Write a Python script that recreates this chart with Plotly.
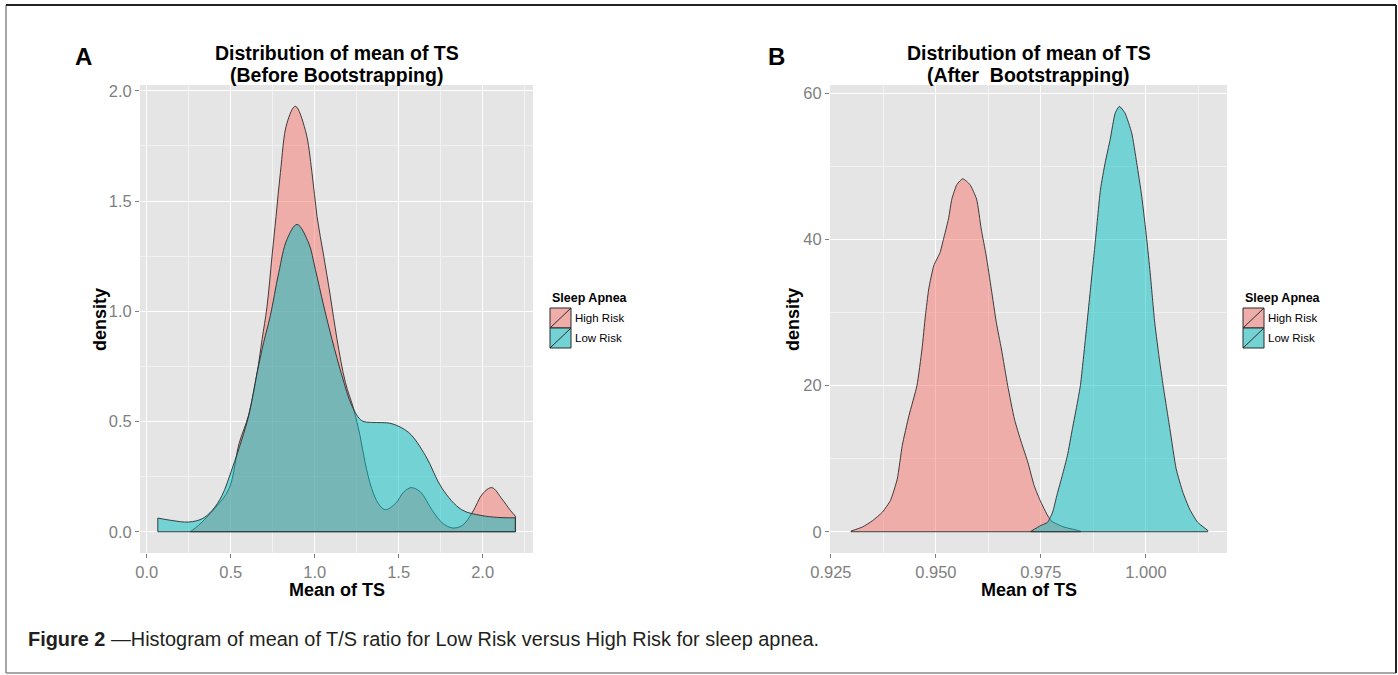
import plotly.graph_objects as go

# ---------------- data ----------------
groups = ["High Risk", "Low Risk"]
legend_title = "Sleep Apnea"

# Panel A: before bootstrapping
a_high_x = [0.26, 0.31, 0.41, 0.49, 0.55, 0.607, 0.657, 0.687, 0.716, 0.746, 0.77, 0.796, 0.835, 0.885,
            0.945, 0.984, 1.014, 1.054, 1.093, 1.133, 1.183, 1.232, 1.27, 1.30, 1.34, 1.38, 1.42, 1.48,
            1.53, 1.575, 1.63, 1.70, 1.76, 1.82, 1.88, 1.94, 2.00, 2.055, 2.115, 2.165, 2.195]
a_high_y = [0.0, 0.03, 0.11, 0.195, 0.40, 0.53, 0.72, 0.873, 1.02, 1.25, 1.43, 1.63, 1.854, 1.93,
            1.82, 1.63, 1.43, 1.25, 1.07, 0.873, 0.677, 0.557, 0.436, 0.315, 0.195, 0.127, 0.10, 0.127,
            0.18, 0.20, 0.18, 0.097, 0.04, 0.017, 0.029, 0.089, 0.172, 0.20, 0.149, 0.097, 0.071]
a_low_x = [0.066, 0.15, 0.25, 0.33, 0.39, 0.448, 0.508, 0.567, 0.607, 0.657, 0.696, 0.736, 0.786, 0.835,
           0.895, 0.964, 1.004, 1.054, 1.103, 1.163, 1.222, 1.28, 1.34, 1.40, 1.46, 1.56, 1.66, 1.76,
           1.875, 1.99, 2.09, 2.195]
a_low_y = [0.062, 0.051, 0.044, 0.059, 0.097, 0.164, 0.285, 0.42, 0.526, 0.72, 0.858, 0.98, 1.175, 1.326,
           1.394, 1.31, 1.19, 1.024, 0.873, 0.707, 0.571, 0.504, 0.496, 0.495, 0.49, 0.45, 0.345, 0.195,
           0.10, 0.074, 0.065, 0.063]

# Panel B: after bootstrapping
b_high_x = [0.9298, 0.9325, 0.9349, 0.9373, 0.9392, 0.9408, 0.9420, 0.9436, 0.9455, 0.9467, 0.9475,
            0.9483, 0.9495, 0.9510, 0.9518, 0.9530, 0.9538, 0.9550, 0.9564, 0.9581, 0.9597, 0.9608,
            0.9620, 0.9632, 0.9644, 0.9656, 0.9671, 0.9687, 0.9703, 0.9719, 0.9734, 0.9750, 0.9774,
            0.9805, 0.9837, 0.9845]
b_high_y = [0.1, 0.64, 1.5, 2.7, 4.3, 7.2, 11.8, 15.9, 20.0, 25.0, 29.5,
            33.2, 36.4, 38.2, 40.0, 42.8, 45.5, 47.5, 48.3, 47.5, 45.5, 41.4,
            37.7, 33.2, 28.6, 25.0, 20.0, 15.4, 12.3, 9.5, 6.3, 4.06, 1.5,
            0.64, 0.2, 0.05]
b_low_x = [0.9726, 0.9750, 0.9766, 0.9778, 0.9789, 0.9801, 0.9813, 0.9825, 0.9837, 0.9844, 0.9856,
           0.9868, 0.9880, 0.9892, 0.9903, 0.9915, 0.9927, 0.9937, 0.9950, 0.9966, 0.9978, 0.9990,
           1.0002, 1.0010, 1.0021, 1.0033, 1.0041, 1.0057, 1.0072, 1.0088, 1.0104, 1.0123, 1.0147]
b_low_y = [0.05, 0.86, 1.3, 2.7, 5.2, 7.7, 10.4, 14.1, 17.7, 20.0, 26.4,
           33.2, 40.0, 46.9, 50.5, 53.7, 57.3, 58.2, 57.3, 54.6, 50.5, 45.9,
           40.0, 35.5, 28.6, 23.2, 20.0, 14.1, 8.6, 5.4, 3.1, 1.3, 0.2]

a_xticks = [0.0, 0.5, 1.0, 1.5, 2.0]
a_yticks = [0.0, 0.5, 1.0, 1.5, 2.0]
b_xticks = [0.925, 0.950, 0.975, 1.000]
b_yticks = [0, 20, 40, 60]

title_line1 = ["Distribution of mean of TS", "Distribution of mean of TS"]
title_line2 = ["(Before Bootstrapping)", "(After  Bootstrapping)"]
panel_letters = ["A", "B"]
x_title = "Mean of TS"
y_title = "density"
caption_bold = "Figure 2"
caption_rest = " \u2014Histogram of mean of T/S ratio for Low Risk versus High Risk for sleep apnea."

# ---------------- style ----------------
W, H = 1398, 675
FILL = {"High Risk": "rgba(248,118,109,0.5)", "Low Risk": "rgba(0,191,196,0.5)"}
OUTLINE = "#2b2b2b"
GREY = "#7F7F7F"
PANEL_BG = "#E5E5E5"
FONT = "Liberation Sans, Arial, sans-serif"
NARROW = "Liberation Sans Narrow, Arial Narrow, Liberation Sans, sans-serif"


def px(x):
    return x / W


def py(y):
    return 1 - y / H


fig = go.Figure()


def add_density(xs, ys, name, xa, ya, smooth):
    fig.add_trace(go.Scatter(
        x=xs, y=ys, mode="lines", name=name, fill="tozeroy",
        fillcolor=FILL[name],
        line=dict(color=OUTLINE, width=0.9, shape="spline", smoothing=smooth),
        xaxis=xa, yaxis=ya, showlegend=False, hoverinfo="skip"))
    # closing edges of the density polygon (down to the baseline)
    fig.add_trace(go.Scatter(
        x=[xs[0], xs[0], xs[-1], xs[-1]], y=[ys[0], 0, 0, ys[-1]], mode="lines",
        line=dict(color=OUTLINE, width=0.9), xaxis=xa, yaxis=ya,
        showlegend=False, hoverinfo="skip"))


add_density(a_high_x, a_high_y, groups[0], "x", "y", 1.0)
add_density(a_low_x, a_low_y, groups[1], "x", "y", 1.0)
add_density(b_high_x, b_high_y, groups[0], "x2", "y2", 0.5)
add_density(b_low_x, b_low_y, groups[1], "x2", "y2", 0.5)


def axis(domain, rng, ticks, fmt, minor_dtick, anchor):
    return dict(domain=domain, range=rng, tickvals=ticks,
                ticktext=[format(t, fmt) for t in ticks], anchor=anchor,
                showgrid=True, gridcolor="white", gridwidth=1.2,
                minor=dict(dtick=minor_dtick, tick0=ticks[0], showgrid=True,
                           gridcolor="#F2F2F2", gridwidth=0.6),
                ticks="outside", ticklen=4, tickwidth=1, tickcolor=GREY,
                tickfont=dict(family=FONT, size=16.5, color=GREY),
                zeroline=False, showline=False, fixedrange=True, automargin=False)


ydom = [py(553), py(85)]
fig.update_layout(
    template="none",
    width=W, height=H, margin=dict(l=0, r=0, t=0, b=0, pad=0), autosize=False,
    paper_bgcolor="white", plot_bgcolor=PANEL_BG, showlegend=False,
    xaxis=axis([px(140), px(533)], [-0.04, 2.30], a_xticks, ".1f", 0.25, "y"),
    yaxis=axis(ydom, [-0.0965, 2.0265], a_yticks, ".1f", 0.25, "x"),
    xaxis2=axis([px(830), px(1227)], [0.9248, 1.0193], b_xticks, ".3f", 0.0125, "y2"),
    yaxis2=axis(ydom, [-2.91, 61.12], b_yticks, "d", 10, "x2"),
)

anns = []
shapes = []
panels = [(140, 533, 550, 100), (830, 1227, 1243, 793)]
letter_x = [83, 776]
for i, (l, r, lgx, ytx) in enumerate(panels):
    cx = (l + r) / 2
    for line_txt, yy in ((title_line1[i], 53), (title_line2[i], 75)):
        anns.append(dict(x=px(cx), y=py(yy), xref="paper", yref="paper", text="<b>" + line_txt + "</b>",
                         showarrow=False, xanchor="center", yanchor="middle",
                         font=dict(family=FONT, size=19.5, color="black")))
    anns.append(dict(x=px(letter_x[i]), y=py(57), xref="paper", yref="paper", text="<b>" + panel_letters[i] + "</b>",
                     showarrow=False, xanchor="center", yanchor="middle",
                     font=dict(family=FONT, size=24, color="black")))
    anns.append(dict(x=px(cx), y=py(590), xref="paper", yref="paper", text="<b>" + x_title + "</b>",
                     showarrow=False, xanchor="center", yanchor="middle",
                     font=dict(family=FONT, size=18, color="black")))
    anns.append(dict(x=px(ytx), y=py(320), xref="paper", yref="paper", text="<b>" + y_title + "</b>",
                     showarrow=False, xanchor="center", yanchor="middle", textangle=-90,
                     font=dict(family=FONT, size=18, color="black")))
    # legend
    anns.append(dict(x=px(lgx), y=py(298), xref="paper", yref="paper", text="<b>" + legend_title + "</b>",
                     showarrow=False, xanchor="left", yanchor="middle",
                     font=dict(family=FONT, size=12.5, color="black")))
    for k, g in enumerate(groups):
        y0 = 308 + 20 * k
        y1 = y0 + 20
        x0, x1 = lgx, lgx + 21
        shapes.append(dict(type="rect", xref="paper", yref="paper", x0=px(x0), x1=px(x1),
                           y0=py(y1), y1=py(y0), fillcolor=PANEL_BG, line=dict(width=0)))
        shapes.append(dict(type="rect", xref="paper", yref="paper", x0=px(x0), x1=px(x1),
                           y0=py(y1), y1=py(y0), fillcolor=FILL[g], line=dict(color=OUTLINE, width=1)))
        shapes.append(dict(type="line", xref="paper", yref="paper", x0=px(x0), x1=px(x1),
                           y0=py(y1), y1=py(y0), line=dict(color=OUTLINE, width=1)))
        anns.append(dict(x=px(x1 + 2), y=py((y0 + y1) / 2), xref="paper", yref="paper", text=g,
                         showarrow=False, xanchor="left", yanchor="middle",
                         font=dict(family=FONT, size=11.5, color="black")))

anns.append(dict(x=px(26), y=py(639), xref="paper", yref="paper",
                 text="<b>" + caption_bold + "</b>" + caption_rest,
                 showarrow=False, xanchor="left", yanchor="middle",
                 font=dict(family=NARROW, size=19.9, color="#231F20")))

# outer frame
shapes.append(dict(type="line", xref="paper", yref="paper", x0=px(6), x1=px(6), y0=py(673), y1=py(5),
                   line=dict(color="#8a8a8a", width=1.5)))
shapes.append(dict(type="line", xref="paper", yref="paper", x0=px(6), x1=px(1396), y0=py(673), y1=py(673),
                   line=dict(color="#8a8a8a", width=1.5)))
shapes.append(dict(type="line", xref="paper", yref="paper", x0=px(6), x1=px(1396), y0=py(5), y1=py(5),
                   line=dict(color="#222222", width=2)))
shapes.append(dict(type="line", xref="paper", yref="paper", x0=px(1396), x1=px(1396), y0=py(673), y1=py(5),
                   line=dict(color="#222222", width=2)))

fig.update_layout(annotations=anns, shapes=shapes)

fig.write_html("out.html", post_script="document.body.style.margin='0';",
               config={"displayModeBar": False, "responsive": False})
